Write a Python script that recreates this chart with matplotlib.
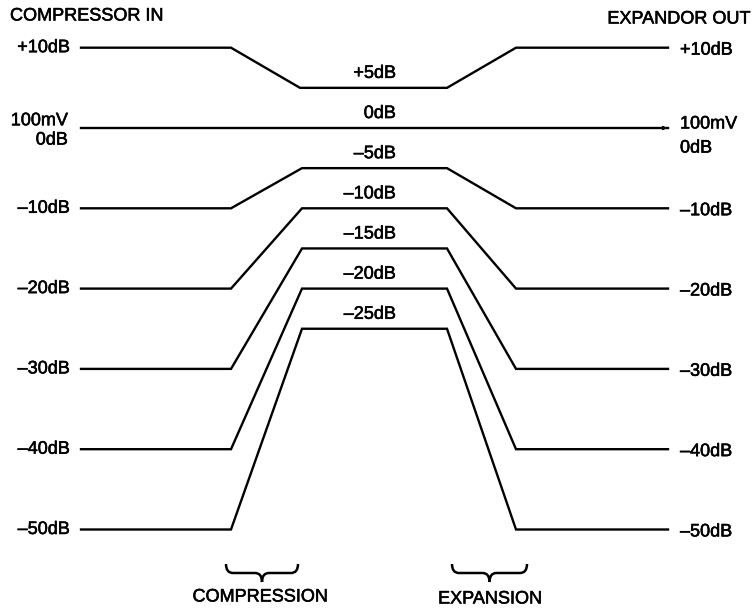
import numpy as np
import matplotlib.pyplot as plt
import matplotlib.patheffects as pe
from matplotlib.path import Path
from matplotlib.patches import PathPatch

# compander levels (dB)
in_levels = [10, 0, -10, -20, -30, -40, -50]
comp_levels = [5, 0, -5, -10, -15, -20, -25]
side_labels = ['+10dB', '0dB', '\u201310dB', '\u201320dB', '\u201330dB', '\u201340dB', '\u201350dB']
mid_labels = ['+5dB', '0dB', '\u20135dB', '\u201310dB', '\u201315dB', '\u201320dB', '\u201325dB']

# x break points of each curve (pixels)
x_pts = [81, 231, 302, 447, 516, 668]

plt.rcParams['font.family'] = ['Liberation Sans', 'DejaVu Sans']
plt.rcParams['path.effects'] = [pe.withStroke(linewidth=0.4, foreground='black')]
fig = plt.figure(figsize=(7.52, 6.09), dpi=100)
ax = fig.add_axes([0, 0, 1, 1])
ax.set_xlim(0, 752)
ax.set_ylim((128 - 609) / 8.03, 128 / 8.03)
ax.axis('off')

fs = 13
for lev, comp, sl, ml in zip(in_levels, comp_levels, side_labels, mid_labels):
    ys = [lev, lev, comp, comp, lev, lev]
    xs = list(x_pts)
    if lev == 10:
        xs[2] = 300
    ax.plot(xs, ys, color='black', lw=1.7, solid_joinstyle='miter', path_effects=[])
    ax.text(396, comp + 1.8, ml, ha='right', va='center', fontsize=fs)
    if lev == 0:
        ax.text(68, lev + 0.9, '100mV', ha='right', va='center', fontsize=fs)
        ax.text(68, lev - 1.5, '0dB', ha='right', va='center', fontsize=fs)
        ax.text(680, lev + 0.5, '100mV', ha='left', va='center', fontsize=fs)
        ax.text(680, lev - 2.5, '0dB', ha='left', va='center', fontsize=fs)
    else:
        ax.text(70, lev, sl, ha='right', va='center', fontsize=fs)
        ax.text(680, lev - 0.3, sl, ha='left', va='center', fontsize=fs)

# small arrow head on the 100mV line
ax.annotate('', xy=(670, 0), xytext=(658, 0),
            arrowprops=dict(arrowstyle='-|>', mutation_scale=5, lw=1.2, color='black'))

tr = ax.get_xaxis_transform()
ax.text(10, 1 - 16 / 609, 'COMPRESSOR IN', transform=tr, ha='left', va='center', fontsize=fs)
ax.text(750, 1 - 19 / 609, 'EXPANDOR OUT', transform=tr, ha='right', va='center', fontsize=fs)


def brace(x0, x1, ytip, yflat, ypt):
    m = (x0 + x1) / 2
    r = 7
    f = lambda y: 1 - y / 609
    verts = [(x0, f(ytip)), (x0, f(yflat)), (x0 + r, f(yflat)),
             (m - r, f(yflat)), (m, f(yflat)), (m, f(ypt)),
             (m, f(yflat)), (m + r, f(yflat)),
             (x1 - r, f(yflat)), (x1, f(yflat)), (x1, f(ytip))]
    codes = [Path.MOVETO, Path.CURVE3, Path.CURVE3,
             Path.LINETO, Path.CURVE3, Path.CURVE3,
             Path.CURVE3, Path.CURVE3,
             Path.LINETO, Path.CURVE3, Path.CURVE3]
    ax.add_patch(PathPatch(Path(verts, codes), transform=tr, fill=False,
                           lw=1.8, edgecolor='black', path_effects=[]))


brace(226, 298, 564, 573, 582)
brace(452, 527, 564, 573, 582)
ax.text(260, 1 - 597 / 609, 'COMPRESSION', transform=tr, ha='center', va='center', fontsize=fs)
ax.text(490, 1 - 599 / 609, 'EXPANSION', transform=tr, ha='center', va='center', fontsize=fs)

fig.savefig('out.png', dpi=100)
